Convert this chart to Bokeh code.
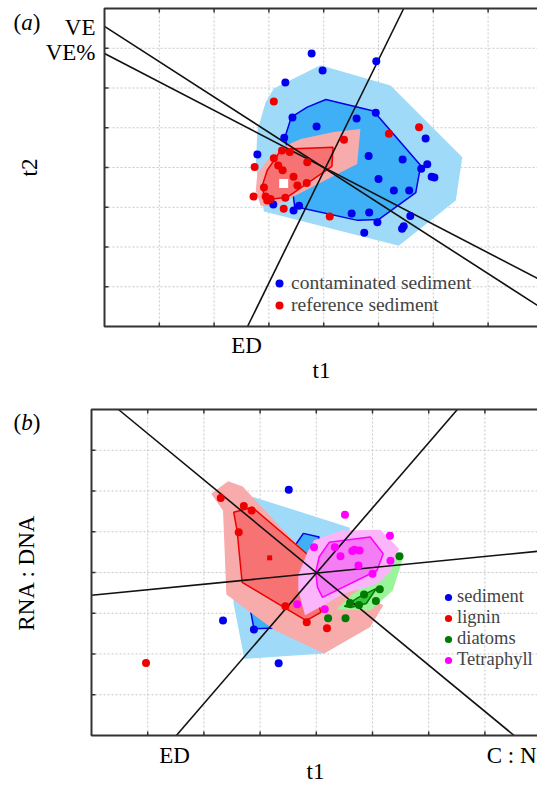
from bokeh.plotting import figure
from bokeh.layouts import column
from bokeh.models import Range1d, Label, Legend, LegendItem, BoxAnnotation
from bokeh.embed import file_html
from bokeh.resources import INLINE

# ---------------- Panel (a) data: t1 / t2 scores (grid units) ----------------
contam_t1 = [3.78, 4.96, 3.98, 3.30, 3.43, 3.87, 4.60, 4.95, 5.86, 3.28, 2.79, 4.82, 5.44, 5.89, 5.78,
             5.97, 6.02, 5.00, 5.28, 5.56, 3.08, 3.45, 3.55, 4.51, 4.83, 4.98, 4.74, 5.58, 5.43, 5.46]
contam_t2 = [6.87, 6.67, 6.44, 6.14, 5.26, 5.03, 5.23, 5.38, 4.73, 4.75, 4.33, 4.29, 4.20, 4.08, 3.97,
             3.77, 3.75, 3.71, 3.42, 3.42, 3.07, 2.92, 3.04, 2.84, 2.87, 2.62, 2.36, 2.78, 2.46, 2.52]
ref_t1 = [3.09, 5.74, 5.19, 4.37, 3.24, 3.38, 3.09, 3.70, 3.17, 3.25, 2.74, 3.45, 3.52, 3.69, 2.91,
          2.72, 2.94, 3.03, 2.97, 3.30, 3.27, 4.11]
ref_t2 = [5.66, 5.01, 4.85, 4.70, 4.43, 4.39, 4.23, 4.13, 4.05, 3.93, 4.01, 3.77, 3.55, 3.61, 3.50,
          3.27, 3.27, 3.21, 3.17, 3.24, 2.96, 2.77]
ref_centroid_t1 = [3.27]
ref_centroid_t2 = [3.60]

contam_outer_t1 = [3.94, 5.22, 6.53, 6.41, 5.37, 2.91, 2.76, 2.79, 2.94, 3.09]
contam_outer_t2 = [6.57, 6.06, 4.26, 3.17, 2.03, 2.89, 4.05, 4.93, 5.64, 5.99]
contam_hull_t1 = [4.04, 4.91, 5.77, 5.68, 5.00, 4.62, 3.47, 3.30, 3.41, 3.70]
contam_hull_t2 = [5.71, 5.42, 4.05, 3.37, 2.69, 2.67, 3.02, 4.79, 5.27, 5.52]
ref_outer_t1 = [4.67, 4.61, 3.09, 2.85, 2.76, 2.79, 2.97, 3.24, 3.58, 4.18]
ref_outer_t2 = [4.97, 4.09, 3.02, 3.04, 3.42, 3.84, 4.18, 4.51, 4.72, 4.89]
ref_hull_t1 = [4.17, 4.15, 3.33, 3.06, 2.91, 2.88, 2.97, 3.21, 3.45]
ref_hull_t2 = [4.51, 4.03, 3.25, 3.21, 3.30, 3.55, 3.93, 4.42, 4.47]

ve_t1 = [0.0, 7.90]
ve_t2 = [7.55, 0.53]
vepct_t1 = [0.0, 7.90]
vepct_t2 = [6.87, 1.21]
ed_a_t1 = [2.61, 5.46]
ed_a_t2 = [0.0, 8.0]

# ---------------- Panel (b) data ----------------
sed_t1 = [3.51, 2.34, 2.89, 3.33]
sed_t2 = [6.03, 2.82, 2.60, 1.77]
lig_t1 = [2.30, 2.71, 2.85, 2.62, 3.45, 3.83, 4.19, 0.97]
lig_t2 = [5.83, 5.63, 5.52, 4.99, 3.17, 2.78, 2.63, 1.78]
lig_centroid_t1 = [3.17]
lig_centroid_t2 = [4.36]
dia_t1 = [5.48, 5.13, 5.06, 4.85, 4.60, 4.76, 4.21, 4.52]
dia_t2 = [4.40, 3.59, 3.30, 3.46, 3.25, 3.20, 2.88, 2.88]
tet_t1 = [4.51, 5.31, 3.96, 4.33, 4.43, 4.64, 4.68, 4.77, 5.32, 4.75, 5.00, 3.66, 4.15]
tet_t2 = [5.42, 4.90, 4.62, 4.62, 4.40, 4.53, 4.56, 4.54, 4.29, 4.17, 3.97, 3.22, 3.10]

sed_outer_t1 = [2.89, 4.60, 4.14, 2.72, 2.53, 2.38]
sed_outer_t2 = [5.85, 5.10, 2.01, 1.88, 3.23, 5.64]
sed_hull_t1 = [2.83, 3.77, 4.05, 3.72, 3.29, 2.89]
sed_hull_t2 = [3.07, 4.96, 4.87, 3.31, 2.64, 2.62]
lig_outer_t1 = [2.13, 2.43, 2.69, 3.80, 5.19, 4.96, 4.14, 3.26, 2.40, 2.34]
lig_outer_t2 = [5.93, 6.24, 6.11, 4.47, 3.19, 2.66, 2.01, 2.58, 3.46, 5.52]
lig_hull_t1 = [2.53, 2.86, 3.83, 4.08, 3.82, 2.68, 2.59]
lig_hull_t2 = [5.48, 5.60, 4.46, 3.02, 2.82, 3.76, 5.03]
dia_outer_t1 = [4.36, 4.61, 5.23, 5.46, 5.53, 5.36, 4.96]
dia_outer_t2 = [3.09, 3.44, 4.00, 4.49, 4.29, 3.56, 3.07]
dia_hull_t1 = [4.50, 4.75, 5.07, 4.89, 4.61]
dia_hull_t2 = [3.17, 3.39, 3.61, 3.24, 3.14]
tet_outer_t1 = [3.83, 3.96, 4.45, 5.14, 5.47, 5.33, 5.08, 4.48, 4.17, 3.80, 3.68, 3.68]
tet_outer_t2 = [4.46, 4.79, 5.03, 5.05, 4.58, 4.05, 3.72, 3.48, 3.23, 2.95, 3.56, 3.93]
tet_hull_t1 = [4.23, 4.96, 5.19, 5.08, 4.11, 4.02, 3.99, 4.05]
tet_hull_t2 = [4.74, 4.87, 4.46, 4.05, 3.39, 3.64, 4.01, 4.38]

cn_t1 = [0.48, 7.52]
cn_t2 = [8.0, 0.0]
ed_b_t1 = [1.51, 6.51]
ed_b_t2 = [0.0, 8.0]
rna_t1 = [0.0, 7.94]
rna_t2 = [3.44, 4.52]

grid_ticks = [1, 2, 3, 4, 5, 6, 7]

SERIF = "Liberation Serif"
AX = "#333333"
GRID = "#c8c8c8"

LIGHT_BLUE = "#9fdbf8"
DARK_BLUE = "#3fb0f6"
BLUE = "#0000ee"
LIGHT_RED = "#f8abab"
MID_RED = "#f77272"
RED = "#ee0000"
LIGHT_GREEN = "#9af59a"
MID_GREEN = "#3cc83c"
GREEN = "#007a00"
LIGHT_MAG = "#fbb6fb"
MID_MAG = "#f47cf4"
MAG = "#ff00ff"


class Panel:
    """Canvas == frame; the visible 'plot box' is drawn inside it."""

    def __init__(self, width, height, box_left, box_top_page, box_bottom_page, page_top, sx):
        self.sx = sx
        self.sy = (box_bottom_page - box_top_page) / 8.0
        self.box_left = box_left
        self.box_bottom = box_bottom_page
        self.page_top = page_top
        x0 = -box_left / sx
        x1 = (width - box_left) / sx
        y1 = (box_bottom_page - page_top) / self.sy
        y0 = (box_bottom_page - (page_top + height)) / self.sy
        self.xin = x1
        p = figure(width=width, height=height, x_range=Range1d(x0, x1), y_range=Range1d(y0, y1),
                   output_backend="svg", toolbar_location=None,
                   x_axis_location=None, y_axis_location=None,
                   min_border=0, min_border_left=0, min_border_right=0,
                   min_border_top=0, min_border_bottom=0, outline_line_color=None,
                   background_fill_color="white", border_fill_color="white")
        p.grid.visible = False
        self.p = p

    def gx(self, px):
        return (px - self.box_left) / self.sx

    def gy(self, py):
        return (self.box_bottom - py) / self.sy

    def decor(self):
        p = self.p
        n = len(grid_ticks)
        xs = [t for t in grid_ticks if t < self.xin]
        m = len(xs)
        p.segment(x0=xs, y0=[0] * m, x1=xs, y1=[8] * m, line_color=GRID, line_dash="2 2", line_width=1)
        p.segment(x0=[0] * n, y0=grid_ticks, x1=[self.xin + 1] * n, y1=grid_ticks,
                  line_color=GRID, line_dash="2 2", line_width=1)

    def frame(self):
        p = self.p
        n = len(grid_ticks)
        xs = [t for t in grid_ticks if t < self.xin]
        m = len(xs)
        tl_y = 4 / self.sy
        tl_x = 4 / self.sx
        p.segment(x0=xs, y0=[0] * m, x1=xs, y1=[tl_y] * m, line_color=AX, line_width=1.5)
        p.segment(x0=xs, y0=[8] * m, x1=xs, y1=[8 - tl_y] * m, line_color=AX, line_width=1.5)
        p.segment(x0=[0] * n, y0=grid_ticks, x1=[tl_x] * n, y1=grid_ticks, line_color=AX, line_width=1.5)
        p.add_layout(BoxAnnotation(left=0, right=self.xin + 1, bottom=0, top=8, fill_color=None,
                                   fill_alpha=0, line_color=AX, line_width=2, line_alpha=1))

    def txt(self, px, py, s, size="23px", align="center", angle=0.0, style="normal"):
        self.p.add_layout(Label(x=self.gx(px), y=self.gy(py), text=s, text_font=SERIF,
                                text_font_size=size, text_align=align, text_baseline="middle",
                                angle=angle, text_font_style=style, text_color="black"))


# ---------------- Panel (a) ----------------
A = Panel(537, 398, 104, 8, 326, 0, 54.8)
pa = A.p
A.decor()
pa.patch(contam_outer_t1, contam_outer_t2, fill_color=LIGHT_BLUE, line_color=None)
pa.patch(contam_hull_t1, contam_hull_t2, fill_color=DARK_BLUE, line_color=BLUE, line_width=1.5)
pa.patch(ref_outer_t1, ref_outer_t2, fill_color=LIGHT_RED, line_color=None)
pa.patch(ref_hull_t1, ref_hull_t2, fill_color=MID_RED, line_color=RED, line_width=1.5)
for lx, ly in ((ve_t1, ve_t2), (vepct_t1, vepct_t2), (ed_a_t1, ed_a_t2)):
    pa.line(lx, ly, line_color="#111111", line_width=1.6)
r_con = pa.scatter(contam_t1, contam_t2, size=8, fill_color=BLUE, line_color=None)
r_ref = pa.scatter(ref_t1, ref_t2, size=8, fill_color=RED, line_color=None)
pa.scatter(ref_centroid_t1, ref_centroid_t2, marker="square", size=9, fill_color="white", line_color=None)
A.frame()

leg_a = Legend(items=[LegendItem(label="contaminated sediment", renderers=[r_con]),
                      LegendItem(label="reference sediment", renderers=[r_ref])],
               location=(269, 398 - 316), orientation="vertical", border_line_color=None,
               background_fill_alpha=0, padding=0, margin=0, spacing=0,
               glyph_width=20, glyph_height=20, label_height=20, label_standoff=2,
               label_text_font=SERIF, label_text_font_size="19.5px")
pa.add_layout(leg_a)

A.txt(13, 22, "(", align="left")
A.txt(20.7, 22, "a", align="left", style="italic")
A.txt(32.2, 22, ")", align="left")
A.txt(95, 27, "VE", align="right")
A.txt(95, 52, "VE%", align="right")
A.txt(246, 345, "ED")
A.txt(321, 370, "t1")
A.txt(29, 167, "t2", angle=1.5708)

# ---------------- Panel (b) ----------------
B = Panel(537, 387, 91, 409, 735, 398, 56.2)
pb = B.p
B.decor()
pb.patch(sed_outer_t1, sed_outer_t2, fill_color=LIGHT_BLUE, line_color=None)
pb.patch(sed_hull_t1, sed_hull_t2, fill_color=DARK_BLUE, line_color=BLUE, line_width=1.5)
pb.patch(lig_outer_t1, lig_outer_t2, fill_color=LIGHT_RED, line_color=None)
pb.patch(lig_hull_t1, lig_hull_t2, fill_color=MID_RED, line_color=RED, line_width=1.5)
pb.patch(dia_outer_t1, dia_outer_t2, fill_color=LIGHT_GREEN, line_color=None)
pb.patch(dia_hull_t1, dia_hull_t2, fill_color=MID_GREEN, line_color=GREEN, line_width=1.5)
pb.patch(tet_outer_t1, tet_outer_t2, fill_color=LIGHT_MAG, line_color=None)
pb.patch(tet_hull_t1, tet_hull_t2, fill_color=MID_MAG, line_color=MAG, line_width=1.5)
for lx, ly in ((cn_t1, cn_t2), (ed_b_t1, ed_b_t2), (rna_t1, rna_t2)):
    pb.line(lx, ly, line_color="#111111", line_width=1.6)
r_sed = pb.scatter(sed_t1, sed_t2, size=8, fill_color=BLUE, line_color=None)
r_lig = pb.scatter(lig_t1, lig_t2, size=8, fill_color=RED, line_color=None)
r_dia = pb.scatter(dia_t1, dia_t2, size=8, fill_color=GREEN, line_color=None)
r_tet = pb.scatter(tet_t1, tet_t2, size=8, fill_color=MAG, line_color=None)
pb.scatter(lig_centroid_t1, lig_centroid_t2, marker="square", size=5, fill_color=RED, line_color=None)
B.frame()

leg_b = Legend(items=[LegendItem(label="sediment", renderers=[r_sed]),
                      LegendItem(label="lignin", renderers=[r_lig]),
                      LegendItem(label="diatoms", renderers=[r_dia]),
                      LegendItem(label="Tetraphyll", renderers=[r_tet])],
               location=(439, 785 - 670), orientation="vertical", border_line_color=None,
               background_fill_alpha=0, padding=0, margin=0, spacing=0,
               glyph_width=18, glyph_height=20, label_height=20, label_standoff=-2,
               label_text_font=SERIF, label_text_font_size="18.5px")
pb.add_layout(leg_b)

B.txt(13, 422, "(", align="left")
B.txt(20.7, 422, "b", align="left", style="italic")
B.txt(32.2, 422, ")", align="left")
B.txt(174, 755, "ED")
B.txt(536, 755, "C : N", align="right")
B.txt(315, 771, "t1")
B.txt(26, 572, "RNA : DNA", angle=1.5708)

layout = column(pa, pb, spacing=0)
open("out.html", "w").write(file_html(layout, INLINE))
